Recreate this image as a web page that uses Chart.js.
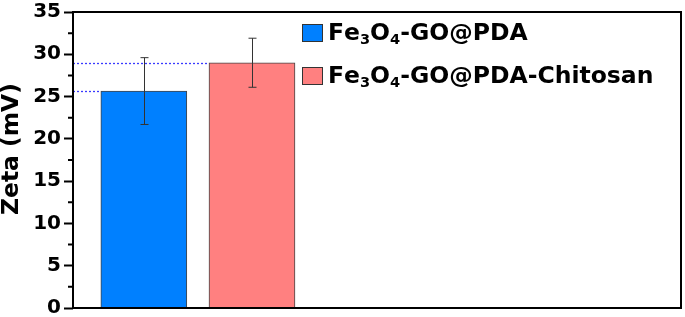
<!DOCTYPE html>
<html>
<head>
<meta charset="utf-8">
<script src="https://cdn.jsdelivr.net/npm/chart.js@4"></script>
<style>
    body { margin: 0; background: #fff; }
    canvas { display: block; }
</style>
</head>
<body>
<canvas id="grafZeta" width="685" height="317"></canvas>
<script>
// datos
const muestras = ['Fe3O4-GO@PDA', 'Fe3O4-GO@PDA-Chitosan']
const posiciones = [1, 2]
const zeta = [25.65, 29.0]
const zetaError = [3.95, 2.9]
const colores = ['#0080ff', '#ff8080']
const tituloY = 'Zeta (mV)'
const yMin = 0
const yMax = 35
const yPaso = 5

const fuente = 'DejaVu Sans'

// texto con subindices (digitos despues de una letra)
function textoQuimico(ctx, texto, x, y, tam)
{
    let prev = ''
    for (let ch of texto) {
        let sub = /\d/.test(ch) && /[A-Za-z\d]/.test(prev)
        ctx.font = `bold ${sub ? tam * 0.62 : tam}px "${fuente}"`
        ctx.fillText(ch, x, sub ? y + 4 : y)
        x += ctx.measureText(ch).width
        prev = ch
    }
}

const extras = {
    id: 'extras',
    beforeDatasetsDraw(chart) {
        let ctx = chart.ctx
        let area = chart.chartArea
        let y = chart.scales.y
        ctx.save()
        // lineas punteadas hasta cada barra
        ctx.strokeStyle = '#3a3aff'
        ctx.lineWidth = 1.3
        ctx.setLineDash([2, 2])
        chart.data.datasets.forEach((ds, i) => {
            let barra = chart.getDatasetMeta(i).data[0]
            let py = Math.round(y.getPixelForValue(zeta[i])) + 0.5
            ctx.beginPath()
            ctx.moveTo(area.left, py)
            ctx.lineTo(barra.x - barra.width / 2, py)
            ctx.stroke()
        })
        ctx.restore()
    },
    afterDatasetsDraw(chart) {
        let ctx = chart.ctx
        let y = chart.scales.y
        ctx.save()
        ctx.strokeStyle = '#333'
        ctx.lineWidth = 1
        chart.data.datasets.forEach((ds, i) => {
            let barra = chart.getDatasetMeta(i).data[0]
            let x = Math.round(barra.x) + 0.5
            let arriba = y.getPixelForValue(zeta[i] + zetaError[i])
            let abajo = y.getPixelForValue(zeta[i] - zetaError[i])
            ctx.beginPath()
            ctx.moveTo(x, arriba)
            ctx.lineTo(x, abajo)
            ctx.moveTo(x - 4, arriba)
            ctx.lineTo(x + 4, arriba)
            ctx.moveTo(x - 4, abajo)
            ctx.lineTo(x + 4, abajo)
            ctx.stroke()
        })
        ctx.restore()
    },
    afterDraw(chart) {
        let ctx = chart.ctx
        let area = chart.chartArea
        let y = chart.scales.y
        ctx.save()
        // marco
        ctx.strokeStyle = '#000'
        ctx.lineWidth = 2
        ctx.strokeRect(area.left, area.top, area.right - area.left, area.bottom - area.top)
        // ticks menores
        ctx.beginPath()
        for (let v = yMin + yPaso / 2; v < yMax; v += yPaso) {
            let py = y.getPixelForValue(v)
            ctx.moveTo(area.left - 5, py)
            ctx.lineTo(area.left, py)
        }
        ctx.stroke()
        // titulo eje Y
        ctx.fillStyle = '#000'
        ctx.translate(12, 149)
        ctx.rotate(-Math.PI / 2)
        ctx.textAlign = 'center'
        ctx.textBaseline = 'middle'
        ctx.font = `bold 23.4px "${fuente}"`
        ctx.fillText(tituloY, 0, 0)
        ctx.restore()

        // leyenda
        ctx.save()
        ctx.textBaseline = 'alphabetic'
        ctx.fillStyle = '#000'
        muestras.forEach((m, i) => {
            let by = 24 + i * 43
            ctx.fillStyle = colores[i]
            ctx.fillRect(302, by, 20, 17)
            ctx.strokeStyle = '#333'
            ctx.lineWidth = 1
            ctx.strokeRect(302.5, by + 0.5, 20, 17)
            ctx.fillStyle = '#000'
            textoQuimico(ctx, m, 328, by + 15.5, 23.5)
        })
        ctx.restore()
    }
}

let grafZeta = new Chart(document.getElementById('grafZeta'), {
    type: 'bar',
    data: {
        datasets: muestras.map((m, i) => ({
            label: m,
            data: [{ x: posiciones[i], y: zeta[i] }],
            backgroundColor: colores[i],
            borderColor: '#444',
            borderWidth: 1,
            barThickness: 86,
            grouped: false,
        }))
    },
    options: {
        responsive: false,
        animation: false,
        layout: {
            padding: { left: 0, top: 12, right: 4, bottom: 9 }
        },
        plugins: {
            legend: { display: false },
            tooltip: { enabled: false },
        },
        scales: {
            x: {
                type: 'linear',
                min: 0.345,
                max: 5.967,
                offset: false,
                display: false,
            },
            y: {
                min: yMin,
                max: yMax,
                ticks: {
                    stepSize: yPaso,
                    color: '#000',
                    padding: 3,
                    font: { family: fuente, weight: 'bold', size: 20 },
                },
                grid: {
                    drawOnChartArea: false,
                    tickLength: 9,
                    tickWidth: 2,
                    color: '#000',
                },
                border: { display: false },
                afterFit: s => {
                    s.width = 73
                    s.paddingTop = 0
                    s.paddingBottom = 0
                },
            },
        },
    },
    plugins: [extras],
})
</script>
</body>
</html>
